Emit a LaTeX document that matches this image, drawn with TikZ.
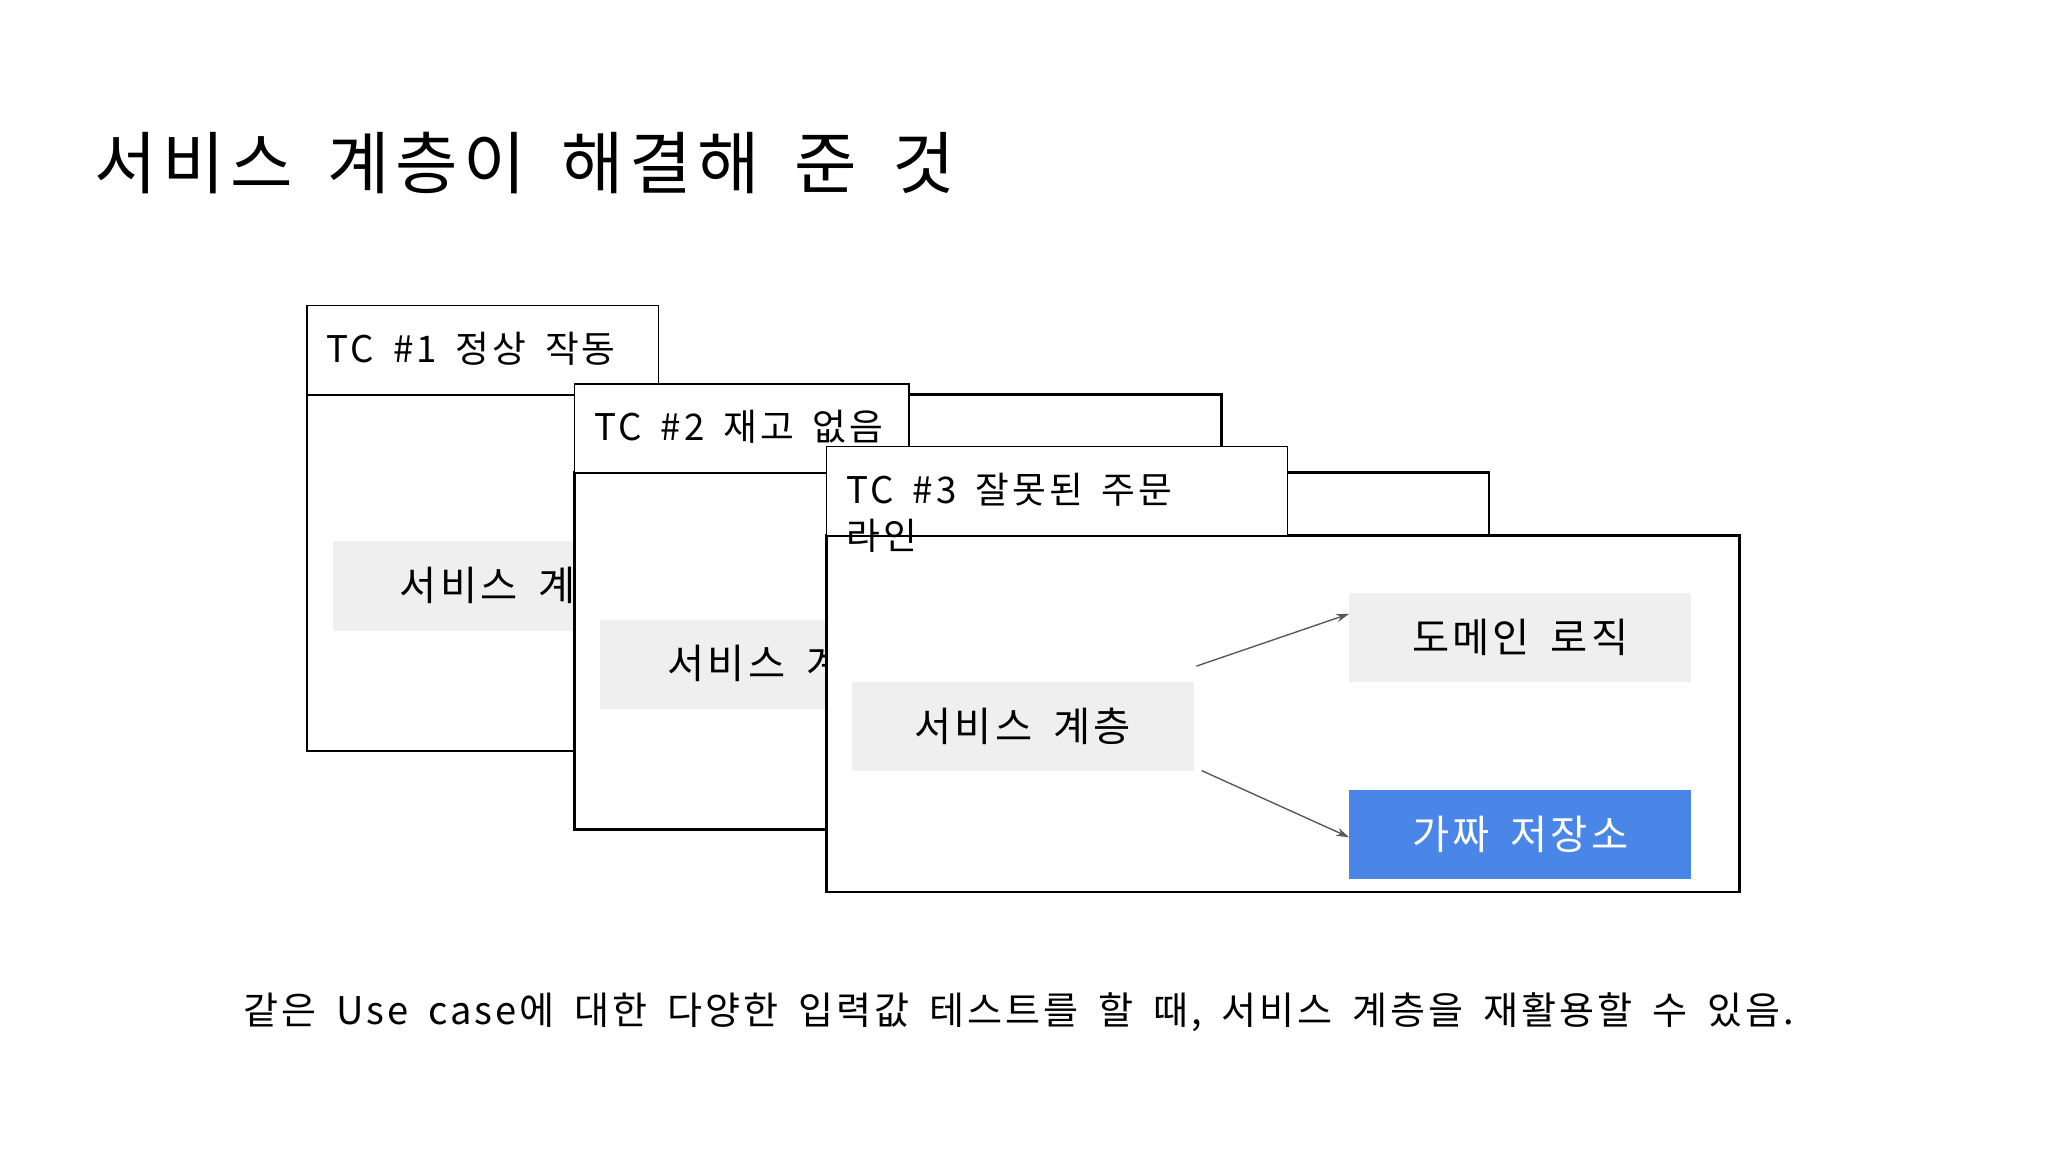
\documentclass[tikz,border=0pt]{standalone}
\usepackage{fontspec}
\setmainfont[LetterSpace=8,WordSpace=1.7]{Noto Sans CJK KR}
\usetikzlibrary{arrows.meta}
\definecolor{boxgray}{HTML}{EFEFEF}
\definecolor{fakeblue}{HTML}{4A86E8}
\begin{document}
\begin{tikzpicture}[x=0.05cm,y=-0.05cm,
  body/.style={draw=black,line width=3pt,fill=white},
  tab/.style={draw=black,line width=1.3pt,fill=white},
  gbox/.style={fill=boxgray,draw=none},
  tabtxt/.style={anchor=west,font=\fontsize{40}{44}\selectfont,inner sep=0pt},
  btxt/.style={font=\fontsize{44}{48}\selectfont,inner sep=0pt},
  conn/.style={draw=black!65,line width=1.5pt,-{Stealth[length=14pt,width=9pt]}}]
\useasboundingbox[fill=white] (0,0) rectangle (1568,882);
\node[anchor=west,inner sep=0pt,font=\fontsize{74}{80}\selectfont] (title) at (72,125) {서비스 계층이 해결해 준 것};
% card 1
\draw[body] (235,302) rectangle (935,575);
\fill[gbox] (255,414) rectangle (520,483);
\node[btxt,anchor=west] (s1) at (306,448) {서비스 계층};
\draw[tab] (235,234) rectangle (504,302);
\node[tabtxt] (t1) at (250,267) {TC \#1 정상 작동};
% card 2
\draw[body] (440,362) rectangle (1140,635);
\fill[gbox] (459,475) rectangle (725,543);
\node[btxt,anchor=west] (s2) at (511,508) {서비스 계층};
\draw[tab] (440,294) rectangle (696,362);
\node[tabtxt] (t2) at (455,327) {TC \#2 재고 없음};
% card 3
\draw[body] (633,410) rectangle (1332,683);
\draw[tab] (633,342) rectangle (986,410);
\node[tabtxt] (t3) at (648,375) {TC \#3 잘못된 주문};
\node[tabtxt] (t3b) at (648,410) {라인};
\node[gbox,minimum width=262*0.05cm,minimum height=68*0.05cm,btxt] (svc) at (783,556) {서비스 계층};
\node[gbox,minimum width=262*0.05cm,minimum height=68*0.05cm,btxt] (dom) at (1164,488) {도메인 로직};
\node[fill=fakeblue,text=white,minimum width=262*0.05cm,minimum height=68*0.05cm,btxt] (fake) at (1164,639) {가짜 저장소};
\coordinate (a1) at (916,510);
\coordinate (a2) at (920,590);
\draw[conn] (a1) -- (dom.west |- 0,470);
\draw[conn] (a2) -- (fake.west |- 0,641);
\node[inner sep=0pt,font=\fontsize{41.5}{44}\selectfont] (cap) at (780,775) {같은 Use case에 대한 다양한 입력값 테스트를 할 때, 서비스 계층을 재활용할 수 있음.};
\end{tikzpicture}
\end{document}
